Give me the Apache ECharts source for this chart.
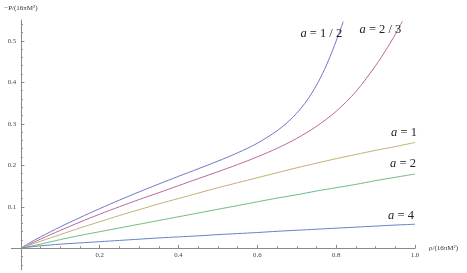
<!DOCTYPE html>
<html>
<head>
<meta charset="utf-8">
<script src="https://cdn.jsdelivr.net/npm/echarts@6/dist/echarts.min.js"></script>
<style>html,body{margin:0;padding:0;background:#fff}#c{width:467px;height:273px}</style>
</head>
<body>
<div id="c"></div>
<script>
// ---- data ----
var xHalf = [0,0.02,0.05,0.1,0.15,0.2,0.25,0.3,0.35,0.4,0.45,0.5,0.55,0.6,0.65,0.68,0.7,0.72,0.74,0.76,0.78,0.8,0.818];
var yHalf = [0,0.012,0.0276,0.0516,0.0741,0.0956,0.1161,0.1359,0.1549,0.1734,0.1916,0.2101,0.2301,0.2531,0.2831,0.3065,0.3255,0.3485,0.3765,0.4105,0.4515,0.4995,0.546];
var xTwoThirds = [0,0.02,0.05,0.1,0.15,0.2,0.25,0.3,0.35,0.4,0.45,0.5,0.55,0.6,0.65,0.7,0.75,0.8,0.85,0.9,0.93,0.95,0.968];
var yTwoThirds = [0,0.009,0.0222,0.0432,0.0632,0.0822,0.1002,0.1175,0.134,0.151,0.1678,0.1845,0.2018,0.2203,0.2408,0.2648,0.2938,0.33,0.3775,0.44,0.4835,0.5155,0.547];
var xFull = [0,0.02,0.05,0.1,0.15,0.2,0.25,0.3,0.35,0.4,0.45,0.5,0.55,0.6,0.65,0.7,0.75,0.8,0.85,0.9,0.95,1.0];
var yOne = [0,0.007,0.017,0.033,0.049,0.064,0.079,0.093,0.107,0.12,0.133,0.146,0.158,0.17,0.182,0.194,0.205,0.216,0.226,0.236,0.245,0.255];
var yTwo = [0,0.004,0.01,0.021,0.031,0.04,0.049,0.058,0.067,0.076,0.085,0.094,0.103,0.112,0.121,0.129,0.138,0.146,0.154,0.163,0.171,0.179];
var yFour = [0,0.003,0.006,0.01,0.013,0.016,0.019,0.022,0.025,0.0275,0.03,0.033,0.0355,0.038,0.041,0.0435,0.046,0.0485,0.051,0.0535,0.056,0.058];
var seriesNames = ['1 / 2','2 / 3','1','2','4'];
var xMajor = [0.2,0.4,0.6,0.8,1.0];
var xMinor = [0.05,0.1,0.15,0.25,0.3,0.35,0.45,0.5,0.55,0.65,0.7,0.75,0.85,0.9,0.95];
var yMajor = [0.1,0.2,0.3,0.4,0.5];
var yMinor = [-0.04,-0.02,0.02,0.04,0.06,0.08,0.12,0.14,0.16,0.18,0.22,0.24,0.26,0.28,0.32,0.34,0.36,0.38,0.42,0.44,0.46,0.48,0.52,0.54];

// ---- styling ----
var colors = ['#7676ca','#ba689e','#c4b074','#70bc84','#6484c4'];
var labelOffsets = [[-22,12],[-22,8],[-11,-10],[-12,-10],[-14,-9]];
var xs = [xHalf, xTwoThirds, xFull, xFull, xFull];
var ys = [yHalf, yTwoThirds, yOne, yTwo, yFour];
var axisGray = '#8a8a8a';
var serif = '"Liberation Serif", "DejaVu Serif", serif';
var X_MIN = -0.024, X_MAX = 1.0, Y_MIN = -0.052, Y_MAX = 0.55;

function pairs(a, b) { return a.map(function (v, i) { return [v, b[i]]; }); }

var series = seriesNames.map(function (n, k) {
  var d = pairs(xs[k], ys[k]);
  var last = d[d.length - 1];
  return {
    type: 'line', data: d, showSymbol: false, smooth: 0.3,
    lineStyle: { color: colors[k], width: 1 },
    itemStyle: { color: colors[k] },
    animation: false, silent: true, z: 3,
    markPoint: {
      symbol: 'circle', symbolSize: 0, animation: false, silent: true,
      data: [{ coord: last, value: n }],
      label: {
        show: true, position: 'inside', offset: labelOffsets[k],
        formatter: '{i|a} = ' + n,
        color: '#222', fontFamily: serif, fontSize: 12.5,
        rich: { i: { fontStyle: 'italic', fontFamily: serif, fontSize: 12.5, color: '#222' } }
      }
    }
  };
});

var chart = echarts.init(document.getElementById('c'), null, { renderer: 'canvas' });
chart.setOption({
  backgroundColor: '#ffffff',
  animation: false,
  grid: { left: 11.4, right: 52, top: 20, bottom: 3.1, containLabel: false, outerBoundsMode: 'none' },
  xAxis: [{
    type: 'value', min: X_MIN, max: X_MAX, position: 'bottom',
    name: 'ρ/(16πM²)', nameLocation: 'end', nameGap: 14,
    nameTextStyle: { fontFamily: serif, fontSize: 7, color: '#333', verticalAlign: 'middle', align: 'left' },
    axisLine: { show: true, onZero: true, lineStyle: { color: axisGray, width: 1 } },
    axisTick: { show: true, inside: true, length: 3.5, customValues: xMajor, lineStyle: { color: axisGray } },
    axisLabel: { show: true, customValues: xMajor, margin: -17.8, fontFamily: serif, fontSize: 6.8, color: '#444',
      formatter: function (v) { return v.toFixed(1); } },
    splitLine: { show: false }
  }, {
    type: 'value', min: X_MIN, max: X_MAX, position: 'bottom',
    axisLine: { show: false, onZero: true },
    axisTick: { show: true, inside: true, length: 2, customValues: xMinor, lineStyle: { color: axisGray } },
    axisLabel: { show: false },
    splitLine: { show: false }
  }],
  yAxis: [{
    type: 'value', min: Y_MIN, max: Y_MAX, position: 'left',
    name: '−P/(16πM²)', nameLocation: 'end', nameGap: 8,
    nameTextStyle: { fontFamily: serif, fontSize: 7, color: '#333', align: 'center', verticalAlign: 'bottom' },
    axisLine: { show: true, onZero: true, lineStyle: { color: axisGray, width: 1 } },
    axisTick: { show: true, inside: true, length: 3.5, customValues: yMajor, lineStyle: { color: axisGray } },
    axisLabel: { show: true, customValues: yMajor, margin: -4.8, fontFamily: serif, fontSize: 6.8, color: '#444',
      formatter: function (v) { return v.toFixed(1); } },
    splitLine: { show: false }
  }, {
    type: 'value', min: Y_MIN, max: Y_MAX, position: 'left',
    axisLine: { show: false, onZero: true },
    axisTick: { show: true, inside: true, length: 2, customValues: yMinor, lineStyle: { color: axisGray } },
    axisLabel: { show: false },
    splitLine: { show: false }
  }],
  series: series
});
</script>
</body>
</html>
